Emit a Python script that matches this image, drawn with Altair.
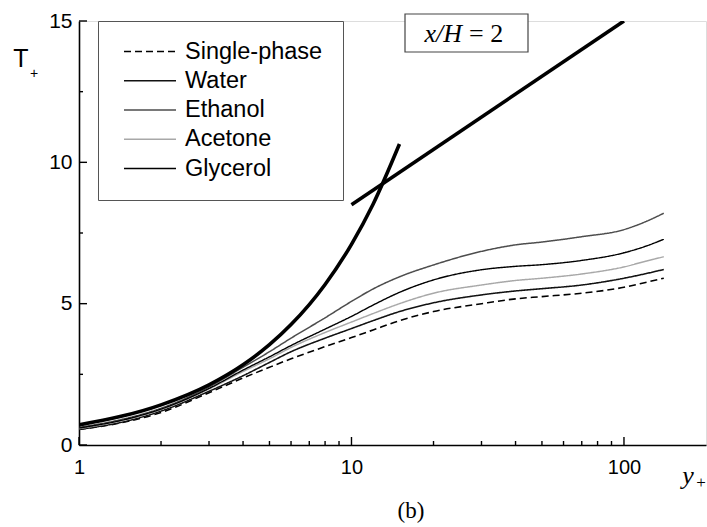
import altair as alt
import pandas as pd

# ---------------- data ----------------
yplus = [1, 1.5, 2, 3, 4, 5, 6, 8, 10, 12, 15, 20, 30, 40, 50, 70, 100, 120, 140]
single_phase = [0.55, 0.83, 1.15, 1.85, 2.37, 2.75, 3.05, 3.48, 3.8, 4.07, 4.4, 4.72, 5.0, 5.17, 5.25, 5.37, 5.58, 5.75, 5.9]
water = [0.55, 0.85, 1.2, 1.9, 2.45, 2.92, 3.3, 3.78, 4.12, 4.4, 4.72, 5.03, 5.31, 5.45, 5.53, 5.66, 5.9, 6.06, 6.21]
ethanol = [0.62, 0.95, 1.3, 2.05, 2.75, 3.3, 3.78, 4.5, 5.08, 5.52, 5.95, 6.37, 6.85, 7.08, 7.18, 7.37, 7.62, 7.9, 8.2]
acetone = [0.58, 0.9, 1.25, 1.98, 2.6, 3.05, 3.45, 3.98, 4.35, 4.65, 5.0, 5.37, 5.66, 5.82, 5.9, 6.05, 6.3, 6.5, 6.66]
glycerol = [0.6, 0.92, 1.27, 2.0, 2.65, 3.12, 3.52, 4.1, 4.55, 4.95, 5.4, 5.84, 6.2, 6.32, 6.38, 6.53, 6.8, 7.03, 7.28]

series_names = ["Single-phase", "Water", "Ethanol", "Acetone", "Glycerol"]
series_values = [single_phase, water, ethanol, acetone, glycerol]
series_colors = ["#000000", "#111111", "#4d4d4d", "#a8a8a8", "#000000"]
series_dash = [[7, 4], [1, 0], [1, 0], [1, 0], [1, 0]]
series_width = [1.6, 1.4, 1.4, 1.4, 2.0]

# wall laws (thick black lines)
visc_y = [1, 2, 3, 4, 5, 6, 8, 10, 12, 15]
visc_T = [0.71, 1.42, 2.13, 2.84, 3.55, 4.26, 5.68, 7.1, 8.52, 10.65]
log_y = [10, 100]
log_T = [8.5, 15.0]

# axis ticks
x_major = [1, 10, 100]
x_minor = [2, 3, 4, 5, 6, 7, 8, 9, 20, 30, 40, 50, 60, 70, 80, 90]
y_major = [0, 5, 10, 15]
y_minor = [2.5, 7.5, 12.5]

# texts
label_T = "T"
label_plus = "+"
label_y = "y"
label_case = "(b)"
label_xh = "x/H"
label_eq = "= 2"

# ---------------- build ----------------
W, H = 627, 424

rows = []
for name, vals in zip(series_names, series_values):
    for xv, tv in zip(yplus, vals):
        rows.append({"x": xv, "y": tv, "series": name})
df = pd.DataFrame(rows)

laws = pd.DataFrame(
    [{"x": a, "y": b, "law": "viscous"} for a, b in zip(visc_y, visc_T)]
    + [{"x": a, "y": b, "law": "log"} for a, b in zip(log_y, log_T)]
)

xs = alt.Scale(type="log", domain=[1, 200], nice=False)
ys = alt.Scale(domain=[0, 15], nice=False, zero=False)

xaxis = alt.Axis(values=x_major, format="d", ticks=False, grid=False, title=None,
                 labelFont="Liberation Sans", labelFontSize=20, labelColor="black",
                 labelPadding=12, domainColor="black", domainWidth=1.6, labelFlush=False)
yaxis = alt.Axis(values=y_major, format="d", ticks=False, grid=False, title=None,
                 labelFont="Liberation Sans", labelFontSize=21, labelColor="black",
                 labelPadding=7, domainColor="black", domainWidth=1.6)

X = alt.X("x:Q", scale=xs, axis=xaxis)
Y = alt.Y("y:Q", scale=ys, axis=yaxis)

leg = alt.Legend(orient="none", legendX=19, legendY=0, title=None,
                 symbolType="stroke", symbolSize=2704, symbolOffset=5,
                 labelFont="Liberation Sans", labelFontSize=23.5, labelColor="black",
                 labelOffset=8, clipHeight=21, rowPadding=5.25, padding=20,
                 strokeColor="#555555", fillColor="white")

lines = alt.Chart(df).mark_line(interpolate="monotone", clip=True).encode(
    x=X, y=Y,
    color=alt.Color("series:N", scale=alt.Scale(domain=series_names, range=series_colors), legend=leg),
    strokeDash=alt.StrokeDash("series:N", scale=alt.Scale(domain=series_names, range=series_dash), legend=leg),
    strokeWidth=alt.StrokeWidth("series:N", scale=alt.Scale(domain=series_names, range=series_width), legend=leg),
)

law_lines = alt.Chart(laws).mark_line(interpolate="monotone", clip=True, color="black",
                                      strokeWidth=3.6, strokeCap="butt").encode(
    x=X, y=Y, detail="law:N"
)

xmaj = alt.Chart(pd.DataFrame({"x": x_major})).mark_rule(color="black", strokeWidth=1.4).encode(
    x=X, y=alt.value(H), y2=alt.value(H - 8))
xmin = alt.Chart(pd.DataFrame({"x": x_minor})).mark_rule(color="black", strokeWidth=1.4).encode(
    x=X, y=alt.value(H), y2=alt.value(H - 4))
ymaj = alt.Chart(pd.DataFrame({"y": y_major})).mark_rule(color="black", strokeWidth=1.4).encode(
    y=Y, x=alt.value(0), x2=alt.value(8))
ymin = alt.Chart(pd.DataFrame({"y": y_minor})).mark_rule(color="black", strokeWidth=1.4).encode(
    y=Y, x=alt.value(0), x2=alt.value(4))


def txt(s, x, y, size, font, style="normal", align="center"):
    return alt.Chart(pd.DataFrame({"t": [s]})).mark_text(
        font=font, fontSize=size, fontStyle=style, align=align, baseline="alphabetic", color="black"
    ).encode(text="t:N", x=alt.value(x), y=alt.value(y))


box = alt.Chart(pd.DataFrame({"b": [0]})).mark_rect(
    fill="white", stroke="#444444", strokeWidth=1.2
).encode(x=alt.value(326), x2=alt.value(449), y=alt.value(-7), y2=alt.value(31))

texts = [
    txt(label_T, -58, 46, 25, "Liberation Sans"),
    txt(label_plus, -45, 57, 14, "Liberation Sans"),
    txt(label_y, 609, 463, 26, "Liberation Serif", "italic"),
    txt(label_plus, 622, 467, 17, "Liberation Serif"),
    txt(label_case, 332, 497, 23, "Liberation Serif"),
    txt(label_xh, 383, 21, 26, "Liberation Serif", "italic", "right"),
    txt(label_eq, 390, 21, 26, "Liberation Serif", "normal", "left"),
]

chart = alt.layer(
    lines, law_lines, xmaj, xmin, ymaj, ymin, box, *texts
).properties(
    width=W, height=H,
    autosize=alt.AutoSizeParams(type="none"),
    padding={"left": 79, "top": 21, "right": 1, "bottom": 82},
).configure_view(stroke=None).configure(background="white")

chart.save("out.html", embed_options={"renderer": "svg", "actions": False})
